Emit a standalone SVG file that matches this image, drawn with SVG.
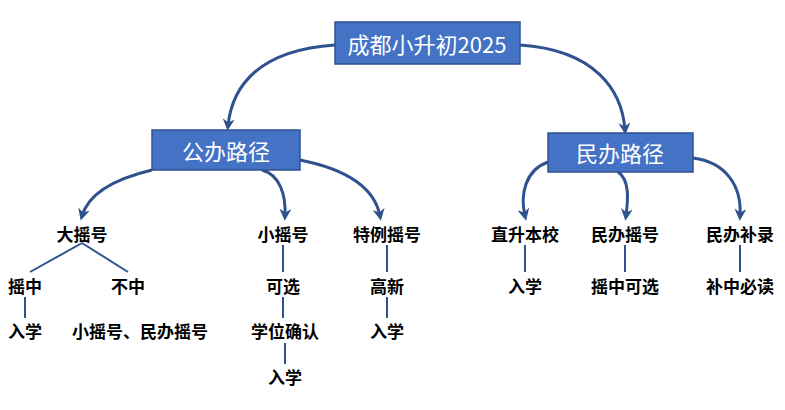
<svg xmlns="http://www.w3.org/2000/svg" width="785" height="410" viewBox="0 0 785 410">
<style>
.box{fill:#4472C4;stroke:#2F528F;stroke-width:1.5}
.bt{font-family:"Noto Sans CJK SC","Liberation Sans",sans-serif;fill:#fff;font-size:22px;text-anchor:middle;dominant-baseline:central}
.t{font-family:"Noto Sans CJK SC","Liberation Sans",sans-serif;fill:#000;font-size:17px;font-weight:bold;text-anchor:middle;dominant-baseline:central}
.c{fill:none;stroke:#2F528F;stroke-width:3}
.l{fill:none;stroke:#2F528F;stroke-width:2}
</style>
<defs><marker id="a" viewBox="0 0 10 10" refX="6" refY="5" markerWidth="4" markerHeight="4" orient="auto"><path d="M0,0 L10,5 L0,10 L3,5 z" fill="#2F528F"/></marker></defs>
<g id="connectors">
<path class="c" marker-end="url(#a)" d="M335,45 C260,50 232,85 228,126"/>
<path class="c" marker-end="url(#a)" d="M520,45 C595,50 622,90 625,130"/>
<path class="c" marker-end="url(#a)" d="M152,170 C110,180 88,195 82,216"/>
<path class="c" marker-end="url(#a)" d="M262,170 C280,175 286,195 285,216"/>
<path class="c" marker-end="url(#a)" d="M300,160 C350,170 375,190 380,216"/>
<path class="c" marker-end="url(#a)" d="M548,162 C525,170 520,195 525,216"/>
<path class="c" marker-end="url(#a)" d="M618,172 C630,180 628,200 626,216"/>
<path class="c" marker-end="url(#a)" d="M693,158 C725,162 742,185 740,216"/>
<path class="l" d="M82,243 L30,272 M82,243 L128,272"/>
<path class="l" d="M25,297 V318 M283,245 V272 M283,297 V318 M285,343 V364 M387,245 V272 M387,297 V318 M525,245 V272 M625,245 V272 M740,245 V272"/>
</g>
<g id="n-top"><rect class="box" x="335" y="22" width="185" height="42"/><text class="bt" x="427" y="43">成都小升初2025</text></g>
<g id="n-gong"><rect class="box" x="152" y="130" width="148" height="40"/><text class="bt" x="226" y="150">公办路径</text></g>
<g id="n-min"><rect class="box" x="548" y="133" width="145" height="39"/><text class="bt" x="620" y="152">民办路径</text></g>
<g id="labels">
<text class="t" x="82" y="233">大摇号</text>
<text class="t" x="283" y="233">小摇号</text>
<text class="t" x="387" y="233">特例摇号</text>
<text class="t" x="525" y="233">直升本校</text>
<text class="t" x="625" y="233">民办摇号</text>
<text class="t" x="740" y="233">民办补录</text>
<text class="t" x="25" y="285">摇中</text>
<text class="t" x="128" y="285">不中</text>
<text class="t" x="283" y="285">可选</text>
<text class="t" x="387" y="285">高新</text>
<text class="t" x="525" y="285">入学</text>
<text class="t" x="625" y="285">摇中可选</text>
<text class="t" x="740" y="285">补中必读</text>
<text class="t" x="25" y="330">入学</text>
<text class="t" x="140" y="330">小摇号、民办摇号</text>
<text class="t" x="285" y="330">学位确认</text>
<text class="t" x="387" y="330">入学</text>
<text class="t" x="285" y="376">入学</text>
</g>
</svg>
